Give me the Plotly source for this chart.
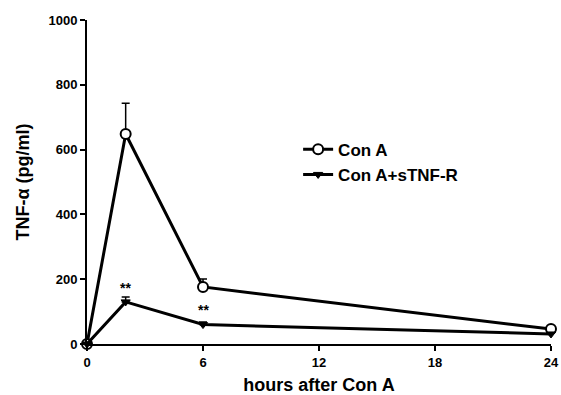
import plotly.graph_objects as go

hours = [0, 2, 6, 24]
con_a = [0, 648, 176, 46]
con_a_err = [0, 95, 25, 0]
con_a_s = [0, 130, 60, 31]
con_a_s_err = [0, 15, 8, 0]
star_x = [2, 6]
star_y = [172, 104]
x_ticks = [0, 6, 12, 18, 24]
y_ticks = [0, 200, 400, 600, 800, 1000]

FONT = "Liberation Sans"

fig = go.Figure()
fig.add_trace(go.Scatter(
    x=hours, y=con_a, name="<b>Con A</b>", mode="lines+markers",
    line=dict(color="black", width=3),
    marker=dict(symbol="circle", size=10, color="white", line=dict(color="black", width=2)),
    error_y=dict(type="data", array=con_a_err, arrayminus=[0]*len(hours), symmetric=False,
                 color="black", thickness=1.5, width=4),
    cliponaxis=False,
))
fig.add_trace(go.Scatter(
    x=hours, y=con_a_s, name="<b>Con A+sTNF-R</b>", mode="lines+markers",
    line=dict(color="black", width=3),
    marker=dict(symbol="triangle-down", size=8, color="black", line=dict(color="black", width=1)),
    error_y=dict(type="data", array=con_a_s_err, arrayminus=[0]*len(hours), symmetric=False,
                 color="black", thickness=1.5, width=4),
    cliponaxis=False,
))
for sx, sy in zip(star_x, star_y):
    fig.add_annotation(x=sx, y=sy, text="<b>**</b>", showarrow=False,
                       font=dict(family=FONT, size=14, color="black"))

fig.update_layout(
    width=561, height=395,
    margin=dict(l=87, r=10, t=20, b=51),
    paper_bgcolor="white", plot_bgcolor="white",
    font=dict(family=FONT, color="black"),
    showlegend=True,
    legend=dict(x=0.455, y=0.655, xanchor="left", yanchor="top",
                font=dict(family=FONT, size=17, color="black"),
                bgcolor="rgba(0,0,0,0)", tracegroupgap=2, itemwidth=30),
    xaxis=dict(range=[0, 24], tickvals=x_ticks, ticktext=[f"<b>{v}</b>" for v in x_ticks],
               showline=True, linecolor="black", linewidth=2, ticks="outside",
               tickwidth=2, ticklen=5, tickcolor="black", showgrid=False, zeroline=False,
               tickfont=dict(family=FONT, size=13), automargin=False,
               title=dict(text="<b>hours after Con A</b>", font=dict(family=FONT, size=18), standoff=14)),
    yaxis=dict(range=[0, 1000], tickvals=y_ticks, ticktext=[f"<b>{v}</b>" for v in y_ticks],
               showline=True, linecolor="black", linewidth=2, ticks="outside",
               tickwidth=2, ticklen=5, tickcolor="black", showgrid=False, zeroline=False,
               tickfont=dict(family=FONT, size=13), automargin=False,
               title=dict(text="<b>TNF-α (pg/ml)</b>", font=dict(family=FONT, size=18), standoff=14)),
)

fig.write_html("out.html")
